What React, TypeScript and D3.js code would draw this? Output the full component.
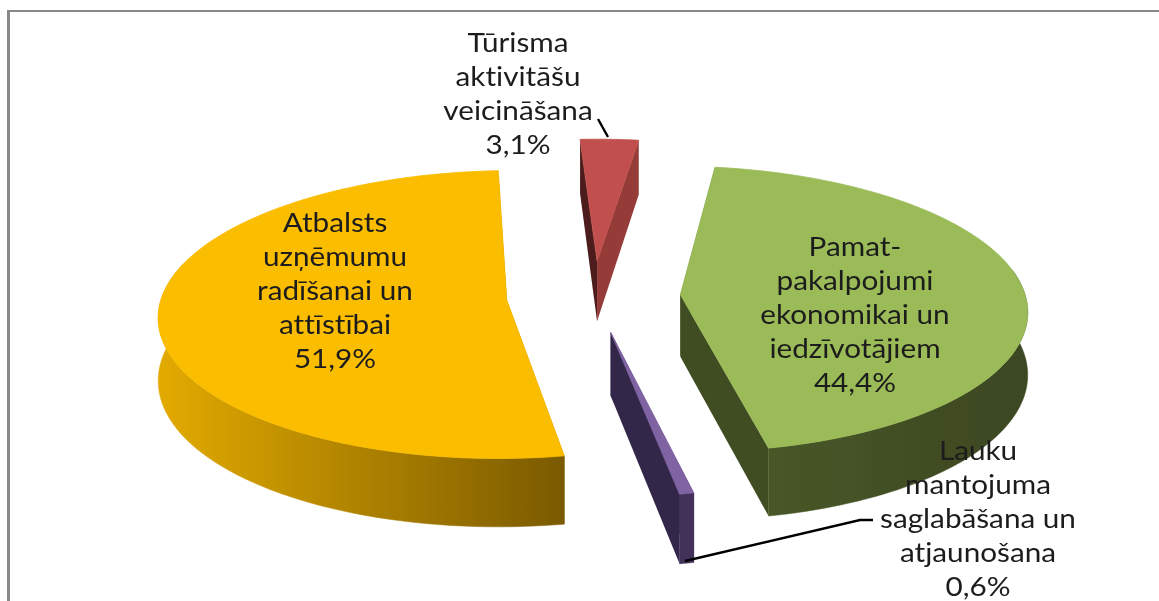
import React from "react";
import * as d3 from "d3";

const categories = [
  "Pamatpakalpojumi",
  "Lauku mantojums",
  "Atbalsts uzņēmumiem",
  "Tūrisma aktivitātes",
];
const values = [44.4, 0.6, 51.9, 3.1];
const valueLabels = ["44,4%", "0,6%", "51,9%", "3,1%"];
const labelLines = [
  ["Pamat-", "pakalpojumi", "ekonomikai un", "iedzīvotājiem"],
  ["Lauku", "mantojuma", "saglabāšana un", "atjaunošana"],
  ["Atbalsts", "uzņēmumu", "radīšanai un", "attīstībai"],
  ["Tūrisma", "aktivitāšu", "veicināšana"],
];
const labelX = [855, 978, 335, 518];
const labelBaseline = [256, 460, 232, 52];
const topColors = ["#9BBB59", "#8064A2", "#FBBD00", "#C0504D"];
const startWallColors = ["#3F4A22", "#43305A", "#7C5C00", "#4E1F1E"];
const endWallColors = ["#414D24", "#33274A", "#7C5C00", "#953A38"];
const outerFrom = ["#485727", "#43305A", "#E2AA00", "#953A38"];
const outerTo = ["#3C4721", "#43305A", "#7A5A00", "#953A38"];
const outerFromX = [770, 680, 160, 578];
const outerToX = [1027, 693, 565, 639];

const W = 1159;
const H = 601;
const cx = 593.5;
const cy = 296;
const R = 345;
const tilt = 0.415;
const persp = 0.1;
const explode = 87;
const depth = 62;
const textStretch = 1.1;
const deg = Math.PI / 180;

type P = [number, number];
const project = (X: number, Y: number, z = 0): P => {
  const s = 1 + (persp * Y) / R;
  return [cx + X * s, cy + Y * tilt * s + z * s];
};
const toPath = d3.line<P>().x((d) => d[0]).y((d) => d[1]);

const pieGen = d3
  .pie<number>()
  .sort(null)
  .startAngle(8 * deg)
  .endAngle(368 * deg);

export default function App() {
  const arcs = pieGen(values);
  return (
    <svg
      width={W}
      height={H}
      viewBox={`0 0 ${W} ${H}`}
      style={{ position: "absolute", left: 0, top: 0, background: "#fff" }}
    >
      <defs>
        {arcs.map((_, i) => (
          <linearGradient
            key={i}
            id={`outer${i}`}
            gradientUnits="userSpaceOnUse"
            x1={outerFromX[i]}
            x2={outerToX[i]}
            y1={0}
            y2={0}
          >
            <stop offset="0" stopColor={outerFrom[i]} />
            <stop offset="1" stopColor={outerTo[i]} />
          </linearGradient>
        ))}
        <filter id="soft" x="-5%" y="-5%" width="110%" height="110%">
          <feGaussianBlur stdDeviation="0.45" />
        </filter>
      </defs>
      <rect x={7} y={10} width={W - 7} height={2} fill="#888" />
      <rect x={7} y={10} width={3} height={H - 10} fill="#888" />
      <g filter="url(#soft)">
        {arcs.map((a, i) => {
          const mid = (a.startAngle + a.endAngle) / 2;
          const X0 = explode * Math.sin(mid);
          const Y0 = -explode * Math.cos(mid);
          const pt = (ang: number, r: number, z = 0) =>
            project(X0 + r * Math.sin(ang), Y0 - r * Math.cos(ang), z);
          const n = Math.max(4, Math.ceil((a.endAngle - a.startAngle) / deg));
          const angles = d3
            .range(n + 1)
            .map((k) => a.startAngle + ((a.endAngle - a.startAngle) * k) / n);
          const top: P[] = [pt(0, 0), ...angles.map((g) => pt(g, R))];
          const wall = (g: number): P[] => [
            pt(0, 0),
            pt(g, R),
            pt(g, R, depth),
            pt(0, 0, depth),
          ];
          const visLo = Math.max(a.startAngle, 80 * deg);
          const visHi = Math.min(a.endAngle, 285 * deg);
          const visible = visLo < visHi;
          const vis = visible
            ? d3.range(61).map((k) => visLo + ((visHi - visLo) * k) / 60)
            : [];
          const outer: P[] = [
            ...vis.map((g) => pt(g, R)),
            ...vis.slice().reverse().map((g) => pt(g, R, depth)),
          ];
          return (
            <g key={categories[i]}>
              <path d={toPath(wall(a.startAngle))! + "Z"} fill={startWallColors[i]} />
              <path d={toPath(wall(a.endAngle))! + "Z"} fill={endWallColors[i]} />
              {visible && (
                <path
                  d={toPath(outer)! + "Z"}
                  fill={`url(#outer${i})`}
                  stroke={`url(#outer${i})`}
                  strokeWidth={0.5}
                />
              )}
              <path
                d={toPath(top)! + "Z"}
                fill={topColors[i]}
                stroke={topColors[i]}
                strokeWidth={0.8}
              />
            </g>
          );
        })}
      </g>
      <g fill="none" stroke="#000" strokeWidth={2.4}>
        <path d={toPath([[598, 119], [608, 137]])!} />
        <path d={toPath([[685, 561], [860, 520], [873, 520]])!} />
      </g>
      <g
        fontFamily="Lato, 'Open Sans', sans-serif"
        fontSize={27}
        fill="#1c1c1c"
        textAnchor="middle"
        filter="url(#soft)"
        style={{ fontVariantLigatures: "none" }}
      >
        {labelLines.map((lines, i) => (
          <text key={i} transform={`translate(${labelX[i]},0) scale(${textStretch},1)`}>
            {[...lines, valueLabels[i]].map((t, j) => (
              <tspan key={j} x={0} y={labelBaseline[i] + j * 34}>
                {t}
              </tspan>
            ))}
          </text>
        ))}
      </g>
    </svg>
  );
}
